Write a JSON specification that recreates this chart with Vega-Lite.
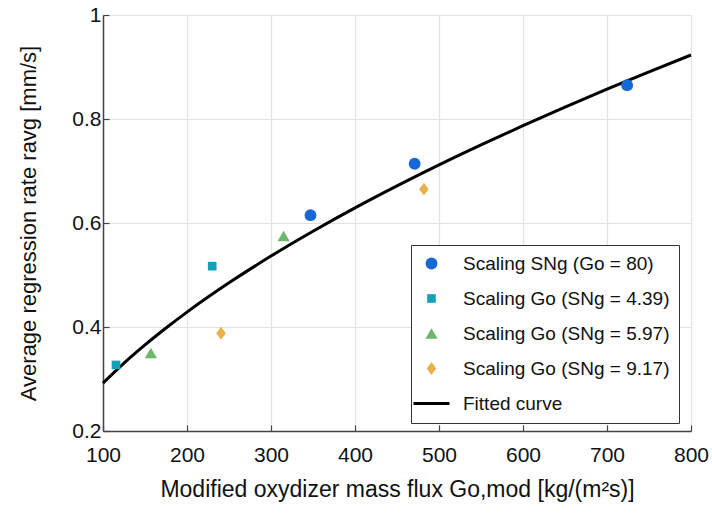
{
  "$schema": "https://vega.github.io/schema/vega-lite/v6.json",
  "width": 588,
  "height": 416,
  "autosize": {"type": "none"},
  "padding": {"left": 103, "top": 15, "right": 21, "bottom": 84},
  "config": {
    "font": "Liberation Sans",
    "view": {"stroke": null},
    "axis": {
      "grid": true,
      "gridColor": "#e2e2e2",
      "gridWidth": 1.2,
      "domainColor": "#444444",
      "domainWidth": 1.5,
      "tickColor": "#444444",
      "tickSize": -6,
      "tickWidth": 1.2,
      "labelFontSize": 21,
      "labelColor": "#111111",
      "labelFlush": false,
      "titleFontSize": 22,
      "titleFontWeight": "normal",
      "titleColor": "#111111"
    },
    "legend": {
      "padding": 9,
      "strokeColor": "#333333",
      "fillColor": "white",
      "labelFontSize": 19,
      "labelColor": "#111111",
      "labelLimit": 0,
      "symbolSize": 120,
      "symbolOffset": 2,
      "labelOffset": 22,
      "rowPadding": 15
    }
  },
  "datasets": {
    "pts": [
      {"g": 347, "r": 0.615, "series": "Scaling SNg (Go = 80)"},
      {"g": 471, "r": 0.714, "series": "Scaling SNg (Go = 80)"},
      {"g": 724, "r": 0.865, "series": "Scaling SNg (Go = 80)"},
      {"g": 115.5, "r": 0.327, "series": "Scaling Go (SNg = 4.39)"},
      {"g": 230, "r": 0.517, "series": "Scaling Go (SNg = 4.39)"},
      {"g": 157, "r": 0.350, "series": "Scaling Go (SNg = 5.97)"},
      {"g": 315, "r": 0.575, "series": "Scaling Go (SNg = 5.97)"},
      {"g": 240.5, "r": 0.388, "series": "Scaling Go (SNg = 9.17)"},
      {"g": 482, "r": 0.665, "series": "Scaling Go (SNg = 9.17)"}
    ],
    "fit": [
      {"g": 100, "r": 0.292, "series": "Fitted curve"},
      {"g": 125, "r": 0.3305, "series": "Fitted curve"},
      {"g": 150, "r": 0.3655, "series": "Fitted curve"},
      {"g": 175, "r": 0.3980, "series": "Fitted curve"},
      {"g": 200, "r": 0.4286, "series": "Fitted curve"},
      {"g": 250, "r": 0.4849, "series": "Fitted curve"},
      {"g": 300, "r": 0.5364, "series": "Fitted curve"},
      {"g": 350, "r": 0.5841, "series": "Fitted curve"},
      {"g": 400, "r": 0.6290, "series": "Fitted curve"},
      {"g": 450, "r": 0.6713, "series": "Fitted curve"},
      {"g": 500, "r": 0.7117, "series": "Fitted curve"},
      {"g": 550, "r": 0.7502, "series": "Fitted curve"},
      {"g": 600, "r": 0.7872, "series": "Fitted curve"},
      {"g": 650, "r": 0.8229, "series": "Fitted curve"},
      {"g": 700, "r": 0.8574, "series": "Fitted curve"},
      {"g": 750, "r": 0.8907, "series": "Fitted curve"},
      {"g": 800, "r": 0.9231, "series": "Fitted curve"}
    ]
  },
  "layer": [
    {
      "data": {"name": "fit"},
      "mark": {"type": "line", "strokeWidth": 3, "interpolate": "monotone"},
      "encoding": {}
    },
    {
      "data": {"name": "pts"},
      "transform": [{"filter": "datum.series === 'Scaling SNg (Go = 80)'"}],
      "mark": {"type": "point", "filled": true, "opacity": 1, "size": 140},
      "encoding": {"shape": {"field": "series", "type": "nominal"}}
    },
    {
      "data": {"name": "pts"},
      "transform": [{"filter": "datum.series === 'Scaling Go (SNg = 4.39)'"}],
      "mark": {"type": "point", "filled": true, "opacity": 1, "size": 75},
      "encoding": {"shape": {"field": "series", "type": "nominal"}}
    },
    {
      "data": {"name": "pts"},
      "transform": [{"filter": "datum.series === 'Scaling Go (SNg = 5.97)'"}],
      "mark": {"type": "point", "filled": true, "opacity": 1, "size": 150},
      "encoding": {"shape": {"field": "series", "type": "nominal"}}
    },
    {
      "data": {"name": "pts"},
      "transform": [{"filter": "datum.series === 'Scaling Go (SNg = 9.17)'"}],
      "mark": {"type": "point", "filled": true, "opacity": 1, "size": 165},
      "encoding": {"shape": {"field": "series", "type": "nominal"}}
    }
  ],
  "encoding": {
    "x": {
      "field": "g", "type": "quantitative",
      "scale": {"domain": [100, 800], "nice": false},
      "axis": {
        "values": [100, 200, 300, 400, 500, 600, 700, 800],
        "title": "Modified oxydizer mass flux Go,mod [kg/(m²s)]",
        "titleFontSize": 23,
        "labelPadding": 19,
        "titlePadding": 13
      }
    },
    "y": {
      "field": "r", "type": "quantitative",
      "scale": {"domain": [0.2, 1], "nice": false, "zero": false},
      "axis": {
        "values": [0.2, 0.4, 0.6, 0.8, 1],
        "format": "~g",
        "title": "Average regression rate ravg [mm/s]",
        "labelPadding": 8,
        "titlePadding": 31
      }
    },
    "color": {
      "field": "series", "type": "nominal",
      "scale": {
        "domain": ["Scaling SNg (Go = 80)", "Scaling Go (SNg = 4.39)", "Scaling Go (SNg = 5.97)", "Scaling Go (SNg = 9.17)", "Fitted curve"],
        "range": ["#1469D6", "#16A0BA", "#6BB86C", "#E9B04C", "#000000"]
      },
      "legend": {
        "title": null,
        "orient": "none",
        "legendX": 308,
        "legendY": 230,
        "encode": {
          "symbols": {
            "update": {
              "stroke": {"scale": "color", "field": "value"},
              "strokeWidth": {"signal": "datum.value === 'Fitted curve' ? 3 : 0"},
              "size": {"signal": "datum.value === 'Fitted curve' ? 1300 : datum.value === 'Scaling Go (SNg = 4.39)' ? 75 : datum.value === 'Scaling Go (SNg = 9.17)' ? 165 : datum.value === 'Scaling Go (SNg = 5.97)' ? 150 : 140"}
            }
          }
        }
      }
    },
    "shape": {
      "field": "series", "type": "nominal",
      "scale": {
        "domain": ["Scaling SNg (Go = 80)", "Scaling Go (SNg = 4.39)", "Scaling Go (SNg = 5.97)", "Scaling Go (SNg = 9.17)", "Fitted curve"],
        "range": ["circle", "square", "triangle-up", "M0,-1L0.75,0L0,1L-0.75,0Z", "stroke"]
      },
      "legend": {
        "title": null,
        "orient": "none",
        "legendX": 308,
        "legendY": 230
      }
    }
  }
}
